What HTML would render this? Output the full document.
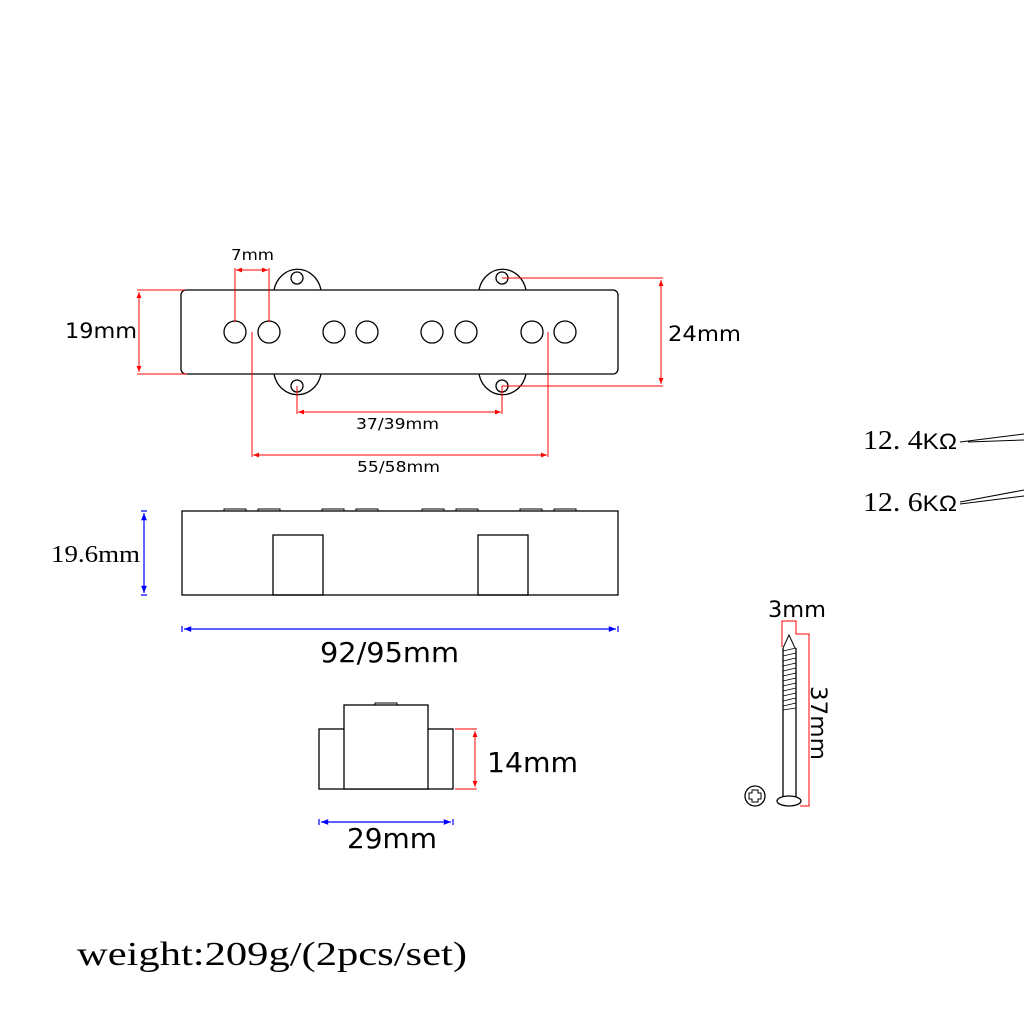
<!DOCTYPE html>
<html><head><meta charset="utf-8"><style>body{margin:0;background:#fff}svg{display:block}</style></head><body>
<svg width="1024" height="1024" viewBox="0 0 1024 1024" xmlns="http://www.w3.org/2000/svg">
<defs>
<marker id="ar" viewBox="0 0 10 10" refX="10" refY="5" markerWidth="7" markerHeight="6" orient="auto-start-reverse"><path d="M0,1 L10,5 L0,9 z" fill="red"/></marker>
<marker id="ab" viewBox="0 0 10 10" refX="10" refY="5" markerWidth="7" markerHeight="6" orient="auto-start-reverse"><path d="M0,1 L10,5 L0,9 z" fill="blue"/></marker>
</defs>
<g fill="none" stroke="#000" stroke-width="1.3">
<path d="M274,290 A24,26 0 0 1 321,290"/><path d="M274,374 A24,26 0 0 0 321,374"/>
<path d="M479,290 A24,26 0 0 1 526,290"/><path d="M479,374 A24,26 0 0 0 526,374"/>
<circle cx="297" cy="278" r="6"/><circle cx="297" cy="386" r="6"/>
<circle cx="502" cy="278" r="6"/><circle cx="502" cy="386" r="6"/>
<rect x="181" y="290" width="437" height="84" rx="5" fill="#fff"/>
<circle cx="235" cy="332" r="11"/><circle cx="269" cy="332" r="11"/>
<circle cx="334" cy="332" r="11"/><circle cx="367" cy="332" r="11"/>
<circle cx="432" cy="332" r="11"/><circle cx="466" cy="332" r="11"/>
<circle cx="532" cy="332" r="11"/><circle cx="565" cy="332" r="11"/>
<rect x="182" y="511" width="436" height="84"/>
<rect x="273" y="535" width="50" height="60"/><rect x="478" y="535" width="50" height="60"/>
<g stroke-width="1"><rect x="224" y="509" width="22" height="2"/><rect x="258" y="509" width="22" height="2"/><rect x="322" y="509" width="22" height="2"/><rect x="356" y="509" width="22" height="2"/><rect x="422" y="509" width="22" height="2"/><rect x="456" y="509" width="22" height="2"/><rect x="520" y="509" width="22" height="2"/><rect x="554" y="509" width="22" height="2"/></g>
<rect x="319" y="729" width="134" height="60"/><rect x="344" y="705" width="84" height="84" fill="#fff"/>
<rect x="375" y="703" width="22" height="2" stroke-width="1"/>
<path d="M783,648 L783,800 M796,648 L796,800" />
<path d="M783,648 L789,635 L795,648" stroke-width="1"/>
<g stroke-width="0.8">
<path d="M783,651 L796,648 M783,656 L796,653 M783,661 L796,658 M783,666 L796,663 M783,671 L796,668 M783,676 L796,673 M783,681 L796,678 M783,686 L796,683 M783,691 L796,688 M783,696 L796,693 M783,701 L796,698 M783,706 L796,703 M783,710 L796,708"/>
</g>
<ellipse cx="789" cy="801" rx="12" ry="5" fill="#fff"/>
<circle cx="755" cy="796" r="10"/>
<path d="M752,790 h6 v3 h3 v6 h-3 v3 h-6 v-3 h-3 v-6 h3 z" stroke-width="1"/>
<path d="M960,442 L1024,434 M968,442 L1024,440" stroke-width="1"/>
<path d="M960,502 L1024,490 M960,504 L1024,496" stroke-width="1"/>
</g>
<g stroke="red" stroke-width="1" fill="none">
<path d="M137,290 H185 M137,374 H187"/><line x1="139" y1="292" x2="139" y2="372" marker-start="url(#ar)" marker-end="url(#ar)"/>
<path d="M235,268 V322 M269,268 V322"/><line x1="236" y1="270" x2="268" y2="270" marker-start="url(#ar)" marker-end="url(#ar)"/>
<path d="M502,278 H663 M502,386 H663"/><line x1="661" y1="280" x2="661" y2="384" marker-start="url(#ar)" marker-end="url(#ar)"/>
<path d="M297,386 V414 M502,386 V414"/><line x1="298" y1="412" x2="501" y2="412" marker-start="url(#ar)" marker-end="url(#ar)"/>
<path d="M252,332 V457 M548,332 V457"/><line x1="253" y1="455" x2="547" y2="455" marker-start="url(#ar)" marker-end="url(#ar)"/>
<path d="M455,729 H477 M455,789 H477"/><line x1="475" y1="731" x2="475" y2="787" marker-start="url(#ar)" marker-end="url(#ar)"/>
<path d="M782,647 V621 H796 V634 H809 V806 H800"/>
</g>
<g stroke="blue" stroke-width="1.2" fill="none">
<line x1="144" y1="513" x2="144" y2="593" marker-start="url(#ab)" marker-end="url(#ab)"/>
<path d="M141,511 H147 M141,595 H147 M182,626 V632 M618,626 V632 M319,819 V825 M453,819 V825"/>
<line x1="184" y1="629" x2="616" y2="629" marker-start="url(#ab)" marker-end="url(#ab)"/>
<line x1="321" y1="822" x2="451" y2="822" marker-start="url(#ab)" marker-end="url(#ab)"/>
</g>
<g font-family="'DejaVu Sans', 'Liberation Sans', sans-serif" fill="#000" lengthAdjust="spacingAndGlyphs">
<text x="65" y="338" font-size="21" textLength="72" lengthAdjust="spacingAndGlyphs">19mm</text>
<text x="231" y="260" font-size="15" textLength="43" lengthAdjust="spacingAndGlyphs">7mm</text>
<text x="668" y="341" font-size="21" textLength="73" lengthAdjust="spacingAndGlyphs">24mm</text>
<text x="356" y="429" font-size="15" textLength="83" lengthAdjust="spacingAndGlyphs">37/39mm</text>
<text x="357" y="472" font-size="15" textLength="83" lengthAdjust="spacingAndGlyphs">55/58mm</text>
<text x="320" y="662" font-size="28" textLength="139" lengthAdjust="spacingAndGlyphs">92/95mm</text>
<text x="487" y="772" font-size="28" textLength="91" lengthAdjust="spacingAndGlyphs">14mm</text>
<text x="347" y="848" font-size="28" textLength="90" lengthAdjust="spacingAndGlyphs">29mm</text>
<text x="768" y="617" font-size="22" textLength="58" lengthAdjust="spacingAndGlyphs">3mm</text>
<text transform="translate(811,686) rotate(90)" font-size="22" textLength="74" lengthAdjust="spacingAndGlyphs">37mm</text>
</g>
<g font-family="'Liberation Serif', serif" fill="#000">
<text x="51" y="562" font-size="24" textLength="89" lengthAdjust="spacingAndGlyphs">19.6mm</text>
<text x="863" y="449" font-size="27" textLength="94" lengthAdjust="spacingAndGlyphs">12. 4<tspan font-family="'Liberation Sans', sans-serif" font-size="22">KΩ</tspan></text>
<text x="863" y="511" font-size="27" textLength="94" lengthAdjust="spacingAndGlyphs">12. 6<tspan font-family="'Liberation Sans', sans-serif" font-size="22">KΩ</tspan></text>
<text x="77" y="965" font-size="34" textLength="390" lengthAdjust="spacingAndGlyphs">weight:209g/(2pcs/set)</text>
</g>
</svg>
</body></html>
